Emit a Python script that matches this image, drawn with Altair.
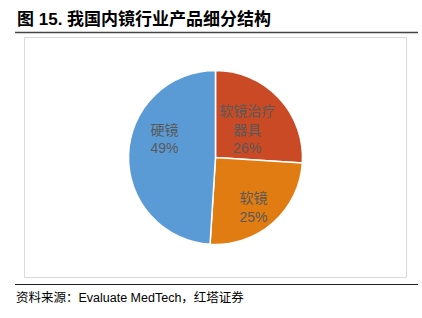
import altair as alt
import pandas as pd
import math

categories = ["软镜治疗器具", "软镜", "硬镜"]
shares = [26, 25, 49]
label_lines = [["软镜治疗", "器具", "26%"], ["软镜", "25%"], ["硬镜", "49%"]]
colors = ["#c94a24", "#e07c12", "#5b9bd5"]

title_text = "图 15. 我国内镜行业产品细分结构"
source_text = "资料来源：Evaluate MedTech，红塔证券"

df = pd.DataFrame({
    "cat": categories,
    "share": shares,
    "order": list(range(len(categories))),
    "label": label_lines,
})

W, H = 422, 318
CX, CY, R = 215.5, 157.5, 87
FONT = "Liberation Sans, Noto Sans CJK SC, sans-serif"

arcs = alt.Chart(df).mark_arc(outerRadius=R, stroke="white", strokeWidth=1.5).encode(
    theta=alt.Theta("share:Q", stack=True),
    order=alt.Order("order:Q"),
    color=alt.Color("cat:N", scale=alt.Scale(domain=categories, range=colors), legend=None),
    x=alt.value(CX), y=alt.value(CY),
)

def label_layer(cat, radius, dx, dy):
    return alt.Chart(df).transform_window(
        cum="sum(share)", sort=[alt.SortField("order")]
    ).transform_joinaggregate(
        total="sum(share)"
    ).transform_calculate(
        mid="(datum.cum - datum.share / 2) / datum.total"
    ).transform_filter(
        alt.datum.cat == cat
    ).mark_text(
        radius=radius, dx=dx, dy=dy, font=FONT, fontSize=14,
        color="#595959", lineHeight=18.5, baseline="middle",
    ).encode(
        theta=alt.Theta("mid:Q", scale=alt.Scale(domain=[0, 1], range=[0, 2 * math.pi])),
        text="label",
        x=alt.value(CX), y=alt.value(CY),
    )

labels = alt.layer(
    label_layer("软镜治疗器具", 53, -7, -9),
    label_layer("软镜", 62, -3, -5),
    label_layer("硬镜", 52, 1, -25),
).resolve_scale(theta="shared")

deco = pd.DataFrame({"k": [0]})
box = alt.Chart(deco).mark_rect(fill="white", stroke="#d9d9d9", strokeWidth=1).encode(
    x=alt.value(24.5), x2=alt.value(406.5), y=alt.value(37.5), y2=alt.value(277.5)
)
top_rule = alt.Chart(deco).mark_rule(color="#444444", strokeWidth=1.5).encode(
    x=alt.value(15), x2=alt.value(418), y=alt.value(32.5)
)
bottom_rule = alt.Chart(deco).mark_rule(color="#222222", strokeWidth=1.2).encode(
    x=alt.value(15), x2=alt.value(418), y=alt.value(284.5)
)
title = alt.Chart(deco).mark_text(
    text=title_text, align="left", baseline="alphabetic", font=FONT,
    fontSize=17, fontWeight="bold", color="#000000",
).encode(x=alt.value(17), y=alt.value(25))
source = alt.Chart(deco).mark_text(
    text=source_text, align="left", baseline="alphabetic", font=FONT,
    fontSize=12.5, color="#000000",
).encode(x=alt.value(16), y=alt.value(302))

chart = alt.layer(box, top_rule, bottom_rule, title, source, arcs, labels).resolve_scale(
    theta="independent"
).properties(
    width=W, height=H, padding=0, autosize=alt.AutoSizeParams(type="none"),
    background="white",
).configure_view(stroke=None)

chart.save("out.html", embed_options={"renderer": "svg", "actions": False})
